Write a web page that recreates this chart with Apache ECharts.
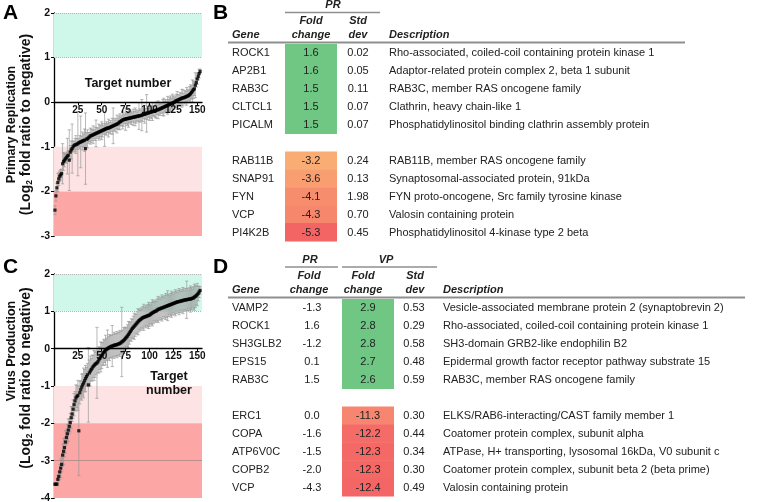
<!DOCTYPE html>
<html><head><meta charset="utf-8">
<script src="https://cdn.jsdelivr.net/npm/echarts@6/dist/echarts.min.js"></script>
<style>html,body{margin:0;padding:0;background:#fff}#c{width:760px;height:502px}</style>
</head><body><div id="c"></div>
<script>
// ---------- Panel A: Primary Replication (log2 fold ratio), sorted by target number ----------
const prValues = [
-2.42,-2.1,-1.92,-1.8,-1.72,-1.66,-1.63,-1.6,-1.38,-1.33,
-1.3,-1.27,-1.24,-1.21,-1.19,-1.3,-1.12,-1.07,-1.04,-1.0,
-0.97,-0.96,-0.95,-0.94,-0.93,-0.91,-0.9,-0.89,-0.88,-0.87,
-0.86,-0.85,-1.04,-0.83,-0.82,-0.8,-0.78,-0.76,-0.75,-0.74,
-0.73,-0.72,-0.71,-0.7,-0.69,-0.68,-0.67,-0.66,-0.65,-0.64,
-0.63,-0.62,-0.61,-0.6,-0.59,-0.58,-0.58,-0.57,-0.56,-0.55,
-0.54,-0.53,-0.52,-0.51,-0.5,-0.49,-0.48,-0.46,-0.44,-0.43,
-0.41,-0.4,-0.39,-0.38,-0.38,-0.37,-0.37,-0.36,-0.36,-0.35,
-0.35,-0.34,-0.34,-0.33,-0.33,-0.32,-0.32,-0.31,-0.31,-0.3,
-0.3,-0.29,-0.28,-0.27,-0.27,-0.26,-0.25,-0.24,-0.24,-0.23,
-0.22,-0.22,-0.21,-0.2,-0.2,-0.19,-0.18,-0.17,-0.17,-0.16,
-0.15,-0.14,-0.13,-0.12,-0.11,-0.1,-0.09,-0.08,-0.07,-0.06,
-0.05,-0.04,-0.03,-0.02,-0.01,0.0,0.02,0.03,0.04,0.05,
0.06,0.07,0.08,0.09,0.1,0.1,0.11,0.12,0.13,0.14,
0.15,0.17,0.19,0.22,0.25,0.28,0.3,0.38,0.44,0.52,
0.58,0.64,0.69];
const prErrors = [
0.1,0.12,0.1,0.2,0.15,0.12,0.12,0.1,0.45,0.2,
0.15,0.1,0.12,0.4,0.1,0.68,0.15,0.2,0.55,0.12,
0.1,0.15,0.2,0.12,0.72,0.1,0.15,0.58,0.12,0.2,
0.15,0.25,0.8,0.15,0.2,0.12,0.1,0.18,0.15,0.12,
0.2,0.1,0.15,0.3,0.12,0.1,0.18,0.15,0.12,0.2,
0.15,0.1,0.38,0.12,0.15,0.1,0.2,0.12,0.15,0.1,
0.18,0.4,0.12,0.15,0.1,0.2,0.12,0.15,0.18,0.1,
0.12,0.2,0.15,0.1,0.25,0.12,0.15,0.2,0.1,0.12,
0.15,0.1,0.18,0.12,0.2,0.15,0.1,0.12,0.3,0.15,
0.12,0.35,0.15,0.1,0.2,0.12,0.42,0.15,0.1,0.18,
0.12,0.15,0.2,0.1,0.12,0.15,0.18,0.1,0.2,0.12,
0.15,0.1,0.12,0.18,0.2,0.12,0.15,0.1,0.2,0.12,
0.15,0.18,0.12,0.2,0.15,0.1,0.12,0.15,0.2,0.12,
0.1,0.15,0.12,0.2,0.18,0.1,0.15,0.12,0.2,0.15,
0.12,0.18,0.2,0.15,0.25,0.2,0.15,0.28,0.1,0.12,
0.08,0.1,0.05];

// ---------- Panel C: Virus Production (log2 fold ratio) ----------
const vpValues = [
-3.63,-3.63,-3.63,-3.5,-3.42,-3.3,-3.2,-3.1,-2.85,-2.75,
-2.65,-2.5,-2.38,-2.28,-2.18,-2.08,-1.98,-1.85,-1.75,-1.62,
-1.5,-1.4,-1.32,-1.28,-1.25,-2.2,-1.18,-1.1,-1.03,-0.97,
-0.92,-0.86,-0.8,-0.75,-0.7,-0.97,-0.65,-0.6,-0.56,-0.52,
-0.48,-0.45,-0.42,-0.4,-0.38,-0.35,-0.3,-0.26,-0.22,-0.18,
-0.14,-0.1,-0.07,-0.04,-0.02,0.0,0.02,0.03,0.05,0.06,
0.07,0.08,0.09,0.1,0.1,0.11,0.12,0.13,0.14,0.16,
0.18,0.2,0.22,0.25,0.28,0.31,0.34,0.38,0.42,0.46,
0.5,0.54,0.57,0.6,0.63,0.66,0.69,0.72,0.75,0.77,
0.79,0.81,0.83,0.84,0.85,0.86,0.87,0.88,0.89,0.9,
0.92,0.94,0.96,0.97,0.99,1.0,1.01,1.03,1.05,1.06,
1.07,1.08,1.09,1.1,1.11,1.12,1.13,1.14,1.15,1.16,
1.17,1.18,1.19,1.2,1.21,1.22,1.23,1.24,1.25,1.26,
1.26,1.27,1.28,1.28,1.29,1.3,1.3,1.31,1.31,1.32,
1.32,1.33,1.33,1.34,1.35,1.36,1.38,1.4,1.42,1.45,
1.48,1.52,1.56];
const vpErrors = [
0.03,0.03,0.03,0.1,0.12,0.2,0.25,0.2,0.3,0.35,
0.25,0.3,0.2,0.25,0.3,0.2,0.25,0.3,0.2,0.25,
0.3,0.25,0.35,0.3,0.4,1.2,0.3,0.25,0.35,0.3,
0.4,0.3,0.35,0.25,0.3,1.0,0.35,0.4,0.3,0.35,
0.3,0.4,0.35,0.3,0.95,0.3,0.35,0.3,0.4,0.35,
0.3,0.35,0.3,0.4,0.3,0.5,0.3,0.35,0.3,0.3,
0.55,0.3,0.35,0.3,0.3,0.35,0.3,0.3,0.35,0.3,
0.93,0.3,0.35,0.3,0.3,0.25,0.3,0.35,0.3,0.25,
0.3,0.25,0.3,0.35,0.3,0.25,0.3,0.35,0.3,0.25,
0.3,0.25,0.3,0.35,0.25,0.3,0.25,0.3,0.35,0.3,
0.25,0.3,0.35,0.3,0.25,0.3,0.25,0.3,0.35,0.3,
0.25,0.3,0.35,0.3,0.25,0.3,0.35,0.3,0.4,0.3,
0.25,0.3,0.35,0.3,0.25,0.3,0.35,0.3,0.25,0.3,
0.35,0.3,0.25,0.3,0.35,0.3,0.25,0.3,0.5,0.3,
0.25,0.3,0.35,0.3,0.25,0.3,0.35,0.3,0.25,0.3,
0.2,0.15,0.1];

const xTicks = [25, 50, 75, 100, 125, 150];

// ---------- Table B ----------
const bGenes = ['ROCK1','AP2B1','RAB3C','CLTCL1','PICALM','RAB11B','SNAP91','FYN','VCP','PI4K2B'];
const bFold  = [1.6, 1.6, 1.5, 1.5, 1.5, -3.2, -3.6, -4.1, -4.3, -5.3];
const bStd   = [0.02, 0.05, 0.11, 0.07, 0.07, 0.24, 0.13, 1.98, 0.70, 0.45];
const bDesc  = [
 'Rho-associated, coiled-coil containing protein kinase 1',
 'Adaptor-related protein complex 2, beta 1 subunit',
 'RAB3C, member RAS oncogene family',
 'Clathrin, heavy chain-like 1',
 'Phosphatidylinositol binding clathrin assembly protein',
 'RAB11B, member RAS oncogene family',
 'Synaptosomal-associated protein, 91kDa',
 'FYN proto-oncogene, Src family tyrosine kinase',
 'Valosin containing protein',
 'Phosphatidylinositol 4-kinase type 2 beta'];

// ---------- Table D ----------
const dGenes = ['VAMP2','ROCK1','SH3GLB2','EPS15','RAB3C','ERC1','COPA','ATP6V0C','COPB2','VCP'];
const dPR    = [-1.3, 1.6, -1.2, 0.1, 1.5, 0.0, -1.6, -1.5, -2.0, -4.3];
const dVP    = [2.9, 2.8, 2.8, 2.7, 2.6, -11.3, -12.2, -12.3, -12.3, -12.4];
const dStd   = [0.53, 0.29, 0.58, 0.48, 0.59, 0.30, 0.44, 0.34, 0.30, 0.49];
const dDesc  = [
 'Vesicle-associated membrane protein 2 (synaptobrevin 2)',
 'Rho-associated, coiled-coil containing protein kinase 1',
 'SH3-domain GRB2-like endophilin B2',
 'Epidermal growth factor receptor pathway substrate 15',
 'RAB3C, member RAS oncogene family',
 'ELKS/RAB6-interacting/CAST family member 1',
 'Coatomer protein complex, subunit alpha',
 'ATPase, H+ transporting, lysosomal 16kDa, V0 subunit c',
 'Coatomer protein complex, subunit beta 2 (beta prime)',
 'Valosin containing protein'];

// ---------------- styling / helpers ----------------
const FONT = "'Liberation Sans', Arial, Helvetica, sans-serif";
const TXT = '#222';
const GREEN = '#70c683';
function lerpColor(c0, c1, t) {
  t = Math.max(0, Math.min(1, t));
  const r = c0.map((v, k) => Math.round(v + (c1[k] - v) * t));
  return 'rgb(' + r.join(',') + ')';
}
function foldColor(v, lo, hi, c0, c1) {
  if (v > 0) return GREEN;
  return lerpColor(c0, c1, (v - lo) / (hi - lo));
}
const bColor = v => foldColor(v, -3.2, -5.3, [249,172,116], [243,100,100]);
const dColor = v => foldColor(v, -11.3, -12.4, [247,133,112], [244,101,101]);

function rowCats(genes) { return genes.slice(0,5).concat(['\u00a0']).concat(genes.slice(5)); }
const bRows = rowCats(bGenes);
const dRows = rowCats(dGenes);

function errData(vals, errs) { return vals.map((v, i) => [i + 1, v - errs[i], v + errs[i]]); }
function ptData(vals) { return vals.map((v, i) => [i + 1, v]); }

function renderErr(params, api) {
  const x = api.value(0);
  const p1 = api.coord([x, api.value(1)]);
  const p2 = api.coord([x, api.value(2)]);
  const w = 1.6, st = { stroke: '#9a9a9a', lineWidth: 0.7 };
  return { type: 'group', children: [
    { type: 'line', shape: { x1: p1[0], y1: p1[1], x2: p2[0], y2: p2[1] }, style: st },
    { type: 'line', shape: { x1: p1[0] - w, y1: p1[1], x2: p1[0] + w, y2: p1[1] }, style: st },
    { type: 'line', shape: { x1: p2[0] - w, y1: p2[1], x2: p2[0] + w, y2: p2[1] }, style: st }
  ]};
}

function makeTableRender(cols) {
  return function (params, api) {
    const i = params.dataIndex;
    const row = api.value(1);
    const c = api.coord([0, row]);
    const h = api.size([0, 1])[1];
    const children = [];
    cols.forEach(col => {
      if (col.fill) {
        const fc = col.fill(i);
        if (fc) {
          const a = api.coord([col.x0, row])[0], b = api.coord([col.x1, row])[0];
          children.push({ type: 'rect', shape: { x: a, y: c[1] - h / 2, width: b - a, height: h + 0.5 },
            style: { fill: fc } });
        }
      }
      children.push({ type: 'text', x: api.coord([col.x, row])[0], y: c[1] + 0.5,
        style: { text: col.text(i), fill: TXT, font: '11px ' + FONT, textAlign: col.align, textVerticalAlign: 'middle' } });
    });
    return { type: 'group', children };
  };
}
function tableData(genes) { return genes.map((g, i) => [0, i < 5 ? i : i + 1]); }

const bCols = [
  { x: 232, align: 'left', text: i => bGenes[i] },
  { x: 311, align: 'center', text: i => bFold[i].toFixed(1), fill: i => bColor(bFold[i]), x0: 285, x1: 337 },
  { x: 358, align: 'center', text: i => bStd[i].toFixed(2) },
  { x: 389, align: 'left', text: i => bDesc[i] }
];
const dCols = [
  { x: 232, align: 'left', text: i => dGenes[i] },
  { x: 312, align: 'center', text: i => dPR[i].toFixed(1) },
  { x: 368, align: 'center', text: i => dVP[i].toFixed(1), fill: i => dColor(dVP[i]), x0: 342, x1: 394 },
  { x: 414, align: 'center', text: i => dStd[i].toFixed(2) },
  { x: 443, align: 'left', text: i => dDesc[i] }
];

// ---------------- axes ----------------
function scatterXAxis(gridIndex, zeroOffset) {
  return {
    type: 'value', gridIndex, min: 0, max: 155, interval: 25, offset: zeroOffset,
    axisLine: { onZero: false, lineStyle: { color: '#000', width: 1.3 } },
    axisTick: { show: true, length: 3, lineStyle: { color: '#000' }, customValues: xTicks },
    axisLabel: { customValues: xTicks, fontSize: 10, fontWeight: 'bold', color: '#111', fontFamily: FONT, margin: 3 },
    splitLine: { show: false }, z: 4
  };
}
const nameRich = {
  l2: { fontSize: 14, fontWeight: 'bold', fontFamily: FONT, color: '#111', lineHeight: 15 },
  sub: { fontSize: 8.5, fontWeight: 'bold', fontFamily: FONT, color: '#111', padding: [7, 0, 0, 0] },
  padA: { width: 70 },
  padB: { width: 16 }
};
function scatterYAxis(gridIndex, min, nameLines) {
  return {
    type: 'value', gridIndex, min, max: 2, interval: 1,
    axisLine: { show: true, onZero: false, lineStyle: { color: '#000', width: 1.3 } },
    axisTick: { show: true, length: 3, lineStyle: { color: '#000' } },
    axisLabel: { fontSize: 10.5, fontWeight: 'bold', color: '#111', fontFamily: FONT, margin: 4 },
    splitLine: { show: false },
    name: nameLines, nameLocation: 'middle', nameRotate: 90, nameGap: 20,
    nameTextStyle: { fontSize: 12.5, fontWeight: 'bold', color: '#111', fontFamily: FONT, lineHeight: 15, rich: nameRich }
  };
}
const nameA = 'Primary Replication\n{l2|(Log}{sub|2}{l2| fold ratio to negative)}';
const nameC = '{padA|\u00a0}Virus Production\n{padB|\u00a0}{l2|(Log}{sub|2}{l2| fold ratio to negative)}';

const bandGreen = '#cff8ea', bandPink = '#fde3e3', bandRed = '#fca6a6';
function bands(lowest) {
  return {
    silent: true,
    data: [
      [{ yAxis: 1, itemStyle: { color: bandGreen } }, { yAxis: 2 }],
      [{ yAxis: -2, itemStyle: { color: bandPink } }, { yAxis: -1 }],
      [{ yAxis: lowest, itemStyle: { color: bandRed } }, { yAxis: -2 }]
    ]
  };
}
function refLines(extra) {
  const d = [{ yAxis: 2 }, { yAxis: 1 }].concat(extra || []);
  return { silent: true, symbol: 'none', label: { show: false },
    lineStyle: { color: '#b5b5b5', type: 'dotted', width: 1 }, data: d };
}

// ---------------- graphic headers ----------------
function t(x, y, text, opt) {
  opt = opt || {};
  return { type: 'text', x, y, z: 100, silent: true, style: {
    text, fill: opt.fill || TXT, textAlign: opt.align || 'left', textVerticalAlign: 'middle',
    font: (opt.style || 'italic bold') + ' ' + (opt.size || 11) + 'px ' + FONT } };
}
function hline(x1, x2, y, w) {
  return { type: 'line', z: 100, silent: true, shape: { x1, y1: y, x2, y2: y }, style: { stroke: '#8f8f8f', lineWidth: w || 1.5 } };
}
const graphics = [
  t(3, 13, 'A', { style: 'bold', size: 21, fill: '#000' }),
  t(3, 267, 'C', { style: 'bold', size: 21, fill: '#000' }),
  t(213, 13, 'B', { style: 'bold', size: 21, fill: '#000' }),
  t(213, 267, 'D', { style: 'bold', size: 21, fill: '#000' }),
  t(128, 84, 'Target number', { style: 'bold', size: 12.5, align: 'center', fill: '#111' }),
  t(169, 377, 'Target', { style: 'bold', size: 12.5, align: 'center', fill: '#111' }),
  t(169, 391, 'number', { style: 'bold', size: 12.5, align: 'center', fill: '#111' }),
  t(333, 5, 'PR', { align: 'center' }), hline(285, 380, 12.5),
  t(311, 21, 'Fold', { align: 'center' }), t(358, 21, 'Std', { align: 'center' }),
  t(232, 35, 'Gene'), t(311, 35, 'change', { align: 'center' }), t(358, 35, 'dev', { align: 'center' }),
  t(389, 35, 'Description'), hline(228, 685, 42.5, 2),
  t(310, 260, 'PR', { align: 'center' }), hline(285, 338, 267),
  t(386, 260, 'VP', { align: 'center' }), hline(342, 437, 267),
  t(309, 276, 'Fold', { align: 'center' }), t(363, 276, 'Fold', { align: 'center' }), t(415, 276, 'Std', { align: 'center' }),
  t(232, 290, 'Gene'), t(309, 290, 'change', { align: 'center' }), t(363, 290, 'change', { align: 'center' }),
  t(415, 290, 'dev', { align: 'center' }), t(443, 290, 'Description'), hline(228, 745, 297.5, 2)
];

const chart = echarts.init(document.getElementById('c'), null, { renderer: 'canvas' });
chart.setOption({
  animation: false,
  backgroundColor: '#fff',
  textStyle: { fontFamily: FONT },
  grid: [
    { left: 54, top: 13, width: 148, height: 223, outerBoundsMode: 'none', containLabel: false },
    { left: 54, top: 274, width: 148, height: 224, outerBoundsMode: 'none', containLabel: false },
    { left: 0, top: 44, width: 760, height: 197, outerBoundsMode: 'none', containLabel: false },
    { left: 0, top: 299, width: 760, height: 197, outerBoundsMode: 'none', containLabel: false }
  ],
  xAxis: [
    scatterXAxis(0, -134), scatterXAxis(1, -149.3),
    { type: 'value', gridIndex: 2, min: 0, max: 760, show: false },
    { type: 'value', gridIndex: 3, min: 0, max: 760, show: false }
  ],
  yAxis: [
    scatterYAxis(0, -3, nameA),
    scatterYAxis(1, -4, nameC),
    { type: 'category', gridIndex: 2, data: bRows, inverse: true, show: false },
    { type: 'category', gridIndex: 3, data: dRows, inverse: true, show: false }
  ],
  graphic: graphics,
  series: [
    { name: 'PR error', type: 'custom', xAxisIndex: 0, yAxisIndex: 0, renderItem: renderErr,
      data: errData(prValues, prErrors), encode: { x: 0, y: [1, 2] }, z: 2,
      markArea: bands(-3), markLine: refLines() },
    { name: 'Primary Replication', type: 'scatter', xAxisIndex: 0, yAxisIndex: 0, data: ptData(prValues),
      symbol: 'rect', symbolSize: 3.2, itemStyle: { color: '#000' }, z: 5 },
    { name: 'VP error', type: 'custom', xAxisIndex: 1, yAxisIndex: 1, renderItem: renderErr,
      data: errData(vpValues, vpErrors), encode: { x: 0, y: [1, 2] }, z: 2,
      markArea: bands(-4), markLine: refLines([{ yAxis: -3, lineStyle: { type: 'solid', color: '#a88', width: 0.8 } }]) },
    { name: 'Virus Production', type: 'scatter', xAxisIndex: 1, yAxisIndex: 1, data: ptData(vpValues),
      symbol: 'rect', symbolSize: 3.2, itemStyle: { color: '#000' }, z: 5 },
    { name: 'Table B', type: 'custom', xAxisIndex: 2, yAxisIndex: 2, renderItem: makeTableRender(bCols),
      data: tableData(bGenes), encode: { x: 0, y: 1 }, silent: true, clip: false },
    { name: 'Table D', type: 'custom', xAxisIndex: 3, yAxisIndex: 3, renderItem: makeTableRender(dCols),
      data: tableData(dGenes), encode: { x: 0, y: 1 }, silent: true, clip: false }
  ]
});
</script>
</body></html>
